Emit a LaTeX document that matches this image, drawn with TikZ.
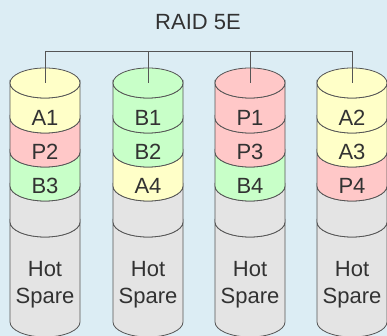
\documentclass[tikz,border=0pt]{standalone}
\usepackage{fontspec}
\setmainfont{Liberation Sans}
\usepackage{tikz}

\definecolor{bg}{RGB}{220,237,244}
\definecolor{yel}{RGB}{255,255,200}
\definecolor{pnk}{RGB}{255,200,200}
\definecolor{grn}{RGB}{200,255,200}
\definecolor{gry}{RGB}{228,228,228}
\definecolor{edge}{RGB}{85,85,85}
\definecolor{ink}{RGB}{50,50,50}

% one band of a disk, between two rim heights
\newcommand{\band}[4]{%
  \filldraw[fill=#4,draw=edge] (#1-35,#2) -- (#1-35,#3)
    arc[start angle=180,end angle=360,x radius=35,y radius=15]
    -- (#1+35,#2) arc[start angle=0,end angle=-180,x radius=35,y radius=15] -- cycle;}

\begin{document}
\begin{tikzpicture}[x=1pt,y=1pt,line width=.8pt,
  every node/.style={text=ink,font=\fontsize{22}{24}\selectfont,inner sep=0pt}]
\useasboundingbox[fill=bg] (0,0) rectangle (387,336);
\node (title) at (198,314) {RAID 5E};
\coordinate (bus) at (198,285);
\foreach \x/\la/\ca/\lb/\cb/\lc/\cc [count=\i] in
  {45/A1/yel/P2/pnk/B3/grn, 148/B1/grn/B2/grn/A4/yel,
   250/P1/pnk/P3/pnk/B4/grn, 352/A2/yel/A3/yel/P4/pnk}{
  \band{\x}{14}{114}{gry}
  \band{\x}{114}{150}{gry}
  \band{\x}{150}{184}{\cc}
  \band{\x}{184}{218}{\cb}
  \band{\x}{218}{253}{\ca}
  \filldraw[fill=\ca,draw=edge] (\x,253) ellipse[x radius=35,y radius=15];
  \coordinate (top\i) at (\x,253);
  \node (a\i) at (\x,218) {\la};
  \node (b\i) at (\x,184) {\lb};
  \node (c\i) at (\x,150) {\lc};
  \node (hot\i) at (\x,67) {Hot};
  \node (spare\i) at (\x,38) {Spare};
}
\draw[edge] (top1) -- (top1 |- bus) -- (top4 |- bus) -- (top4);
\draw[edge] (top2) -- (top2 |- bus);
\draw[edge] (top3) -- (top3 |- bus);
\end{tikzpicture}
\end{document}
